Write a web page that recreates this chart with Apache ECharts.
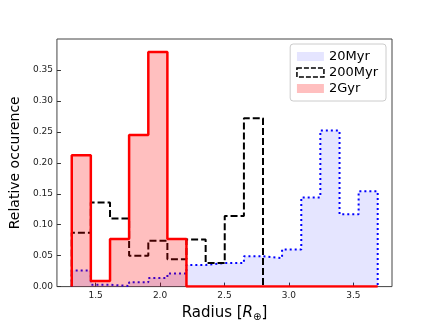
<!DOCTYPE html>
<html>
<head>
<meta charset="utf-8">
<script src="https://cdn.jsdelivr.net/npm/echarts@6/dist/echarts.min.js"></script>
<style>
html,body{margin:0;padding:0;background:#fff;}
#chart{width:436px;height:327px;}
</style>
</head>
<body>
<div id="chart"></div>
<script>
// Histogram bin edges (Radius, R_earth)
var binEdges = [1.315, 1.463, 1.612, 1.760, 1.909, 2.057, 2.205, 2.354, 2.502, 2.651, 2.799, 2.947, 3.096, 3.244, 3.393, 3.541, 3.689];
// Relative occurrence per bin
var myr20 = [0.026, 0.003, 0.001, 0.007, 0.014, 0.021, 0.035, 0.038, 0.038, 0.049, 0.046, 0.060, 0.144, 0.252, 0.117, 0.154];
var myr200 = [0.087, 0.136, 0.110, 0.050, 0.074, 0.044, 0.076, 0.038, 0.114, 0.272];
var gyr2 = [0.212, 0.009, 0.077, 0.245, 0.379, 0.077, 0, 0, 0, 0, 0, 0, 0, 0, 0, 0];
var xTicks = [1.5, 2.0, 2.5, 3.0, 3.5];
var yTicks = [0, 0.05, 0.10, 0.15, 0.20, 0.25, 0.30, 0.35];
var seriesNames = ['20Myr', '200Myr', '2Gyr'];

function stepPoints(vals) {
  var pts = [[binEdges[0], 0]];
  for (var i = 0; i < vals.length; i++) {
    pts.push([binEdges[i], vals[i]]);
    pts.push([binEdges[i + 1], vals[i]]);
  }
  pts.push([binEdges[vals.length], 0]);
  return pts;
}

var FONT = 'DejaVu Sans';
var chart = echarts.init(document.getElementById('chart'), null, {renderer: 'canvas'});
chart.setOption({
  animation: false,
  backgroundColor: '#fff',
  grid: {left: 54, right: 44, top: 39, bottom: 36, show: true, borderColor: '#444', borderWidth: 1},
  legend: {
    right: 50, top: 44,
    orient: 'vertical',
    itemWidth: 27, itemHeight: 9, itemGap: 3,
    padding: [6, 8, 6, 6],
    backgroundColor: 'rgba(255,255,255,0.8)',
    borderColor: '#ccc', borderWidth: 1, borderRadius: 3,
    textStyle: {fontFamily: FONT, fontSize: 13, color: '#000'},
    data: [
      {name: seriesNames[0], icon: 'rect', itemStyle: {color: 'rgba(0,0,255,0.1)', borderWidth: 0, opacity: 1}},
      {name: seriesNames[1], icon: 'rect', itemStyle: {color: 'rgba(0,0,0,0)', borderColor: '#000', borderWidth: 1.5, borderType: [5, 2]}},
      {name: seriesNames[2], icon: 'rect', itemStyle: {color: 'rgba(255,0,0,0.25)', borderWidth: 0, opacity: 1}}
    ]
  },
  xAxis: {
    type: 'value', min: 1.2, max: 3.8,
    name: '{n|Radius [}{i|R}{s|⊕}{n|]}',
    nameLocation: 'middle', nameGap: 12,
    nameTextStyle: {
      fontFamily: FONT, fontSize: 14, color: '#000',
      rich: {
        n: {fontFamily: FONT, fontSize: 15, color: '#000'},
        i: {fontFamily: FONT, fontSize: 15, fontStyle: 'italic', color: '#000'},
        s: {fontFamily: FONT, fontSize: 10, color: '#000', padding: [8, 0, 0, 0]}
      }
    },
    axisLine: {show: false},
    axisTick: {show: true, inside: true, length: 4, lineStyle: {color: '#333'}, customValues: xTicks},
    axisLabel: {fontFamily: FONT, fontSize: 9, color: '#222', margin: 5, customValues: xTicks,
      formatter: function (v) { return v.toFixed(1); }},
    splitLine: {show: false}
  },
  yAxis: {
    type: 'value', min: 0, max: 0.4,
    name: 'Relative occurence',
    nameLocation: 'middle', nameGap: 31,
    nameTextStyle: {fontFamily: FONT, fontSize: 14, color: '#000'},
    axisLine: {show: false},
    axisTick: {show: true, inside: true, length: 4, lineStyle: {color: '#333'}, customValues: yTicks},
    axisLabel: {fontFamily: FONT, fontSize: 9, color: '#222', margin: 4, customValues: yTicks,
      formatter: function (v) { return v.toFixed(2); }},
    splitLine: {show: false}
  },
  series: [
    {
      name: seriesNames[0], type: 'line', data: stepPoints(myr20), symbol: 'none', z: 2,
      lineStyle: {color: '#0000ff', width: 2, type: [2, 3]},
      areaStyle: {color: 'rgba(0,0,255,0.1)', opacity: 1, origin: 'start'}
    },
    {
      name: seriesNames[1], type: 'line', data: stepPoints(myr200), symbol: 'none', z: 3,
      lineStyle: {color: '#000', width: 2, type: [7, 3]}
    },
    {
      name: seriesNames[2], type: 'line', data: stepPoints(gyr2), symbol: 'none', z: 4,
      lineStyle: {color: '#ff0000', width: 2.5},
      areaStyle: {color: 'rgba(255,0,0,0.25)', opacity: 1, origin: 'start'}
    }
  ]
});
</script>
</body>
</html>
